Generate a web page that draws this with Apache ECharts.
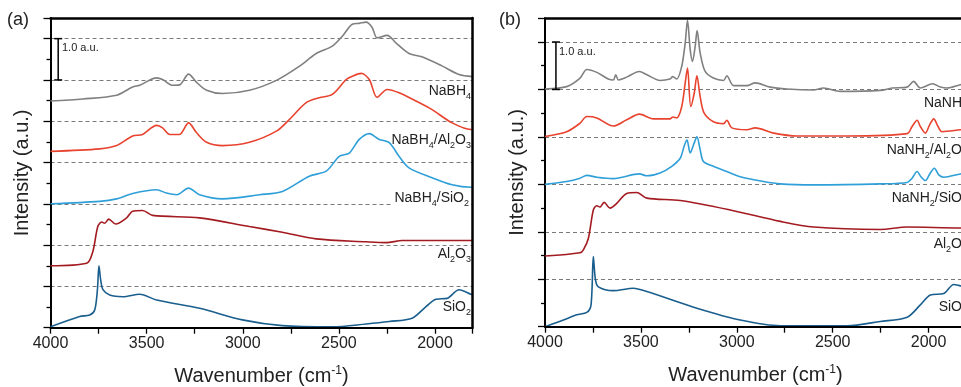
<!DOCTYPE html>
<html><head><meta charset="utf-8">
<script src="https://cdn.jsdelivr.net/npm/echarts@6/dist/echarts.min.js"></script>
<style>html,body{margin:0;padding:0;background:#fff}#c{width:961px;height:387px}</style>
</head><body><div id="c"></div>
<script>
// ---------- Panel (a) ----------
const a_NaBH4_wn = [4000,3832,3656,3573,3536,3448,3417,3365,3329,3282,3240,3188,3105,2965,2825,2706,2618,2534,2482,2430,2394,2358,2327,2301,2249,2202,2135,2068,1964,1875,1805];
const a_NaBH4_y  = [5.49,5.54,5.63,5.83,5.87,6.05,6.01,5.87,5.88,6.14,5.94,5.75,5.67,5.75,5.99,6.33,6.64,6.82,7.06,7.35,7.37,7.40,7.27,7.02,7.08,6.89,6.64,6.56,6.34,6.13,6.08];
const a_NaBH4Al_wn = [4000,3744,3656,3573,3521,3448,3417,3380,3329,3282,3240,3188,3105,2965,2825,2758,2670,2602,2534,2462,2430,2384,2342,2301,2249,2187,2099,2015,1911,1813,1805];
const a_NaBH4Al_y  = [4.27,4.33,4.41,4.64,4.68,4.90,4.84,4.68,4.68,4.96,4.72,4.49,4.41,4.49,4.76,5.04,5.45,5.57,5.65,6.01,6.09,6.16,6.01,5.58,5.77,5.69,5.49,5.28,4.96,4.80,4.80];
const a_NaBH4Si_wn = [4000,3744,3656,3573,3448,3396,3344,3282,3225,3105,2913,2794,2654,2566,2498,2446,2394,2342,2290,2238,2187,2135,2015,1911,1813,1805];
const a_NaBH4Si_y  = [3.00,3.06,3.12,3.25,3.34,3.26,3.22,3.38,3.22,3.12,3.22,3.30,3.67,3.79,4.15,4.23,4.56,4.70,4.56,4.48,4.15,3.87,3.63,3.46,3.40,3.40];
const a_Al2O3_wn = [4000,3812,3780,3754,3734,3718,3697,3661,3604,3573,3521,3469,3225,2965,2794,2618,2358,2254,2170,1813,1805];
const a_Al2O3_y  = [1.50,1.56,1.84,2.45,2.56,2.53,2.63,2.51,2.66,2.82,2.84,2.72,2.66,2.45,2.31,2.15,2.08,2.06,2.11,2.11,2.11];
const a_SiO2_wn = [4000,3848,3796,3770,3756,3748,3739,3727,3692,3624,3536,3448,3225,3002,2794,2534,2358,2238,2119,2047,1995,1937,1875,1813,1805];
const a_SiO2_y  = [0.02,0.27,0.31,0.43,0.92,1.50,1.16,0.92,0.79,0.75,0.81,0.67,0.47,0.19,0.05,0.02,0.09,0.15,0.23,0.51,0.69,0.71,0.92,0.81,0.80];

// ---------- Panel (b) ----------
const b_NaNH2_wn = [4000,3887,3817,3782,3730,3670,3644,3631,3617,3574,3508,3469,3400,3348,3334,3313,3287,3269,3257,3243,3231,3217,3207,3191,3165,3122,3069,3052,3017,2947,2904,2826,2739,2600,2548,2460,2252,2190,2112,2078,2043,1979,1938,1903,1834,1805];
const b_NaNH2_y  = [5.01,5.06,5.24,5.42,5.36,5.22,5.20,5.31,5.20,5.26,5.38,5.31,5.19,5.22,5.27,5.22,5.49,5.98,6.46,5.84,5.59,5.91,6.24,5.77,5.38,5.24,5.19,5.29,5.08,5.08,5.14,5.05,5.01,4.99,5.03,4.96,4.98,5.03,5.05,5.17,5.03,5.12,5.05,5.03,5.10,5.12];
const b_NaNH2Al_wn = [4000,3887,3817,3782,3730,3644,3574,3508,3435,3348,3334,3313,3287,3269,3257,3240,3222,3208,3191,3170,3122,3069,3052,3026,2947,2904,2808,2686,2425,2112,2086,2060,2043,2017,1994,1973,1952,1930,1834,1805];
const b_NaNH2Al_y  = [4.01,4.11,4.29,4.43,4.40,4.23,4.36,4.48,4.38,4.38,4.42,4.40,4.64,5.14,5.45,4.64,4.92,5.29,4.85,4.50,4.32,4.28,4.35,4.19,4.15,4.19,4.08,4.02,4.02,4.07,4.22,4.35,4.22,4.08,4.26,4.38,4.23,4.11,4.15,4.16];
const b_NaNH2Si_wn = [4000,3887,3817,3782,3730,3644,3508,3469,3400,3339,3295,3275,3260,3243,3226,3208,3191,3174,3122,3052,2982,2861,2774,2600,2252,2112,2086,2060,2040,2017,1991,1970,1947,1921,1834,1805];
const b_NaNH2Si_y  = [3.00,3.06,3.13,3.19,3.15,3.12,3.22,3.18,3.24,3.38,3.55,3.80,3.94,3.66,3.83,4.00,3.73,3.48,3.38,3.27,3.16,3.06,3.01,2.99,3.01,3.04,3.13,3.27,3.16,3.08,3.24,3.34,3.20,3.15,3.22,3.23];
const b_Al2O3_wn = [4000,3817,3800,3774,3748,3730,3713,3692,3661,3626,3574,3521,3469,3295,3034,2773,2600,2252,2112,1834,1805];
const b_Al2O3_y  = [1.49,1.56,1.62,1.86,2.46,2.55,2.52,2.62,2.50,2.60,2.81,2.83,2.71,2.66,2.46,2.22,2.10,2.05,2.10,2.08,2.08];
const b_SiO2_wn = [4000,3904,3835,3782,3760,3748,3737,3722,3644,3539,3469,3208,2982,2773,2425,2252,2112,2043,1991,1921,1869,1834,1805];
const b_SiO2_y  = [0.00,0.14,0.25,0.30,0.46,1.48,0.99,0.84,0.76,0.81,0.74,0.39,0.14,0.02,0.02,0.11,0.20,0.46,0.67,0.70,0.89,0.86,0.84];

// scale bars (wavenumber, from, to)
const scaleA = [3960, 6, 7];
const scaleB = [3943, 5, 6];

// axis extents and ticks
const xMax = 4000, xMin = 1805, xStep = 250, xLabelStep = 500;
const yMaxA = 7.5, yMaxB = 6.5;

// labels
const labelsA = ['{m|NaBH}{s|4}', '{m|NaBH}{s|4}{m|/Al}{s|2}{m|O}{s|3}', '{m|NaBH}{s|4}{m|/SiO}{s|2}', '{m|Al}{s|2}{m|O}{s|3}', '{m|SiO}{s|2}'];
const labelsB = ['{m|NaNH}{s|2}', '{m|NaNH}{s|2}{m|/Al}{s|2}{m|O}{s|3}', '{m|NaNH}{s|2}{m|/SiO}{s|2}', '{m|Al}{s|2}{m|O}{s|3}', '{m|SiO}{s|2}'];

const FONT = '"Liberation Sans", Arial, Helvetica, sans-serif';
const COLORS = ['#808080', '#e8432f', '#2f9fd8', '#a31b20', '#1a5e8e'];

const chart = echarts.init(document.getElementById('c'), null, {renderer: 'canvas'});

function mk(wn, y, color, idx) {
  return {type: 'line', xAxisIndex: idx, yAxisIndex: idx, data: wn.map((w, i) => [-w, y[i]]),
    showSymbol: false, symbol: 'none', smooth: 0.3, silent: true, animation: false, z: 3,
    lineStyle: {color: color, width: 1.6}, itemStyle: {color: color}};
}
function bar(s, idx) {
  return {type: 'line', xAxisIndex: idx, yAxisIndex: idx, data: [[-s[0], s[1]], [-s[0], s[2]]],
    symbol: 'rect', symbolSize: [8, 1.5], showSymbol: true, silent: true, animation: false, z: 5,
    lineStyle: {color: '#000', width: 1.5}, itemStyle: {color: '#000'}};
}
const rich = {
  m: {fontSize: 14, lineHeight: 20, fontFamily: FONT, fill: '#222'},
  s: {fontSize: 9, lineHeight: 10, fontFamily: FONT, fill: '#222', verticalAlign: 'bottom'}
};
function xb(grid) {
  return {type: 'value', gridIndex: grid, min: -xMax, max: -xMin, interval: xStep, z: 4,
    axisLine: {show: true, onZero: false, lineStyle: {color: '#000', width: 2}},
    axisTick: {show: true, inside: false, length: 6, lineStyle: {color: '#000', width: 1.3}},
    axisLabel: {show: true, margin: 8, fontSize: 16, color: '#222', fontFamily: FONT,
      formatter: v => (Math.round(v) % xLabelStep === 0 ? String(-Math.round(v)) : '')},
    splitLine: {show: false},
    name: '{m|Wavenumber (cm}{p|-1}{m|)}', nameLocation: 'middle', nameGap: 37,
    nameTextStyle: {rich: {m: {fontSize: 20, lineHeight: 24, color: '#222', fontFamily: FONT},
                           p: {fontSize: 12, lineHeight: 12, color: '#222', fontFamily: FONT, verticalAlign: 'top'}}}};
}
function xt(grid) {
  return {type: 'value', gridIndex: grid, min: -xMax, max: -xMin, position: 'top', z: 4,
    axisLine: {show: true, onZero: false, lineStyle: {color: '#000', width: 2.5}},
    axisTick: {show: false}, axisLabel: {show: false}, splitLine: {show: false}};
}
function yl(grid, mx) {
  return {type: 'value', gridIndex: grid, min: 0, max: mx, interval: 1,
    axisLine: {show: true, onZero: false, lineStyle: {color: '#000', width: 2}},
    axisTick: {show: true, inside: false, length: 7, lineStyle: {color: '#000', width: 1.3}},
    minorTick: {show: true, splitNumber: 2, length: 4, lineStyle: {color: '#000', width: 1.3}},
    axisLabel: {show: false},
    splitLine: {show: true, lineStyle: {color: '#7a7a7a', width: 1, type: [4, 3]}},
    name: 'Intensity (a.u.)', nameLocation: 'middle', nameGap: 16,
    nameTextStyle: {fontSize: 20, lineHeight: 24, color: '#222', fontFamily: FONT}};
}
function yr(grid, mx) {
  return {type: 'value', gridIndex: grid, min: 0, max: mx, position: 'right', z: 4,
    axisLine: {show: true, onZero: false, lineStyle: {color: '#000', width: 2.5}},
    axisTick: {show: false}, axisLabel: {show: false}, splitLine: {show: false}};
}

const labYA = [91, 140, 198, 254, 307];
const labYB = [103, 150, 198, 244, 307];
const graphics = [];
labelsA.forEach((t, i) => graphics.push({type: 'text', x: 471, y: labYA[i], z: 10,
  style: Object.assign({text: t, rich: rich, align: 'right', verticalAlign: 'middle', font: '14px ' + FONT},
    i === 2 ? {backgroundColor: '#fff', padding: [0, 2, 0, 3]} : {})}));
labelsB.forEach((t, i) => graphics.push({type: 'text', x: 967, y: labYB[i], z: 10,
  style: {text: t, rich: rich, align: 'right', verticalAlign: 'middle', font: '14px ' + FONT}}));
graphics.push({type: 'text', x: 62, y: 48, style: {text: '1.0 a.u.', font: '11px ' + FONT, fill: '#222', align: 'left', verticalAlign: 'middle'}});
graphics.push({type: 'text', x: 559, y: 52, style: {text: '1.0 a.u.', font: '11px ' + FONT, fill: '#222', align: 'left', verticalAlign: 'middle'}});
graphics.push({type: 'text', x: 7, y: 20, style: {text: '(a)', font: '18px ' + FONT, fill: '#222', align: 'left', verticalAlign: 'middle'}});
graphics.push({type: 'text', x: 499, y: 20, style: {text: '(b)', font: '18px ' + FONT, fill: '#222', align: 'left', verticalAlign: 'middle'}});

chart.setOption({
  animation: false,
  backgroundColor: '#fff',
  grid: [
    {left: 50.5, top: 18, width: 422, height: 309.7, outerBoundsMode: 'none', containLabel: false},
    {left: 545, top: 18.3, width: 421, height: 308.4, outerBoundsMode: 'none', containLabel: false}
  ],
  xAxis: [xb(0), xb(1), xt(0), xt(1)],
  yAxis: [yl(0, yMaxA), yl(1, yMaxB), yr(0, yMaxA), yr(1, yMaxB)],
  series: [
    mk(a_NaBH4_wn, a_NaBH4_y, COLORS[0], 0),
    mk(a_NaBH4Al_wn, a_NaBH4Al_y, COLORS[1], 0),
    mk(a_NaBH4Si_wn, a_NaBH4Si_y, COLORS[2], 0),
    mk(a_Al2O3_wn, a_Al2O3_y, COLORS[3], 0),
    mk(a_SiO2_wn, a_SiO2_y, COLORS[4], 0),
    mk(b_NaNH2_wn, b_NaNH2_y, COLORS[0], 1),
    mk(b_NaNH2Al_wn, b_NaNH2Al_y, COLORS[1], 1),
    mk(b_NaNH2Si_wn, b_NaNH2Si_y, COLORS[2], 1),
    mk(b_Al2O3_wn, b_Al2O3_y, COLORS[3], 1),
    mk(b_SiO2_wn, b_SiO2_y, COLORS[4], 1),
    bar(scaleA, 0),
    bar(scaleB, 1)
  ],
  graphic: graphics
});
</script></body></html>
